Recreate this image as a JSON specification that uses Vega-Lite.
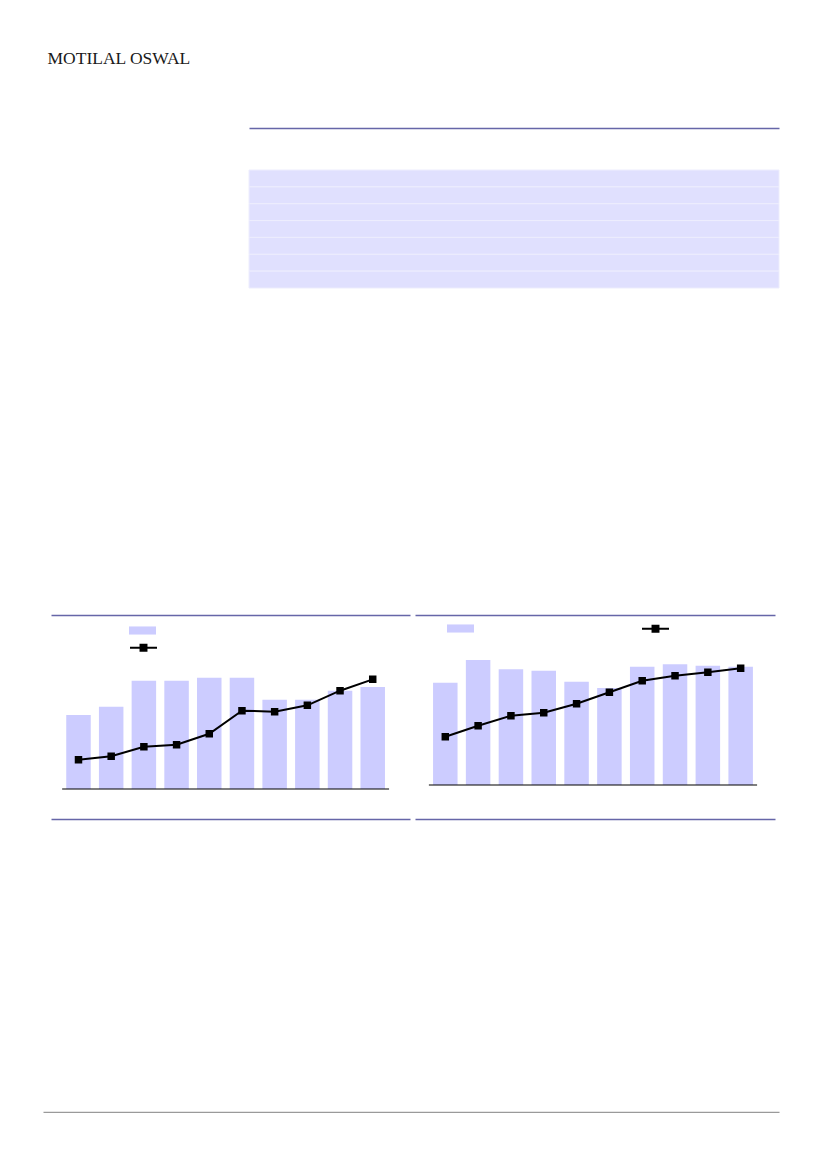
{
  "$schema": "https://vega.github.io/schema/vega-lite/v6.json",
  "padding": {"top": 49, "left": 42, "right": 0, "bottom": 0},
  "background": "white",
  "title": {"text": "MOTILAL OSWAL", "anchor": "start", "frame": "bounds", "font": "Liberation Serif", "fontSize": 17.5, "fontWeight": "normal", "color": "#1a1a1a", "dx": 5, "offset": 47, "baseline": "alphabetic"},
  "datasets": {
    "table": [{"row": 1, "w": 1}, {"row": 2, "w": 1}, {"row": 3, "w": 1}, {"row": 4, "w": 1}, {"row": 5, "w": 1}, {"row": 6, "w": 1}, {"row": 7, "w": 1}],
    "left": [
      {"idx": 1, "bar": 680, "line": 5.05},
      {"idx": 2, "bar": 757, "line": 5.64},
      {"idx": 3, "bar": 996, "line": 7.29},
      {"idx": 4, "bar": 996, "line": 7.64},
      {"idx": 5, "bar": 1023, "line": 9.53},
      {"idx": 6, "bar": 1023, "line": 13.5},
      {"idx": 7, "bar": 821, "line": 13.33},
      {"idx": 8, "bar": 821, "line": 14.43},
      {"idx": 9, "bar": 904, "line": 16.95},
      {"idx": 10, "bar": 938, "line": 18.91}
    ],
    "right": [
      {"idx": 1, "bar": 1023, "line": 9.66},
      {"idx": 2, "bar": 1250, "line": 11.86},
      {"idx": 3, "bar": 1157, "line": 13.86},
      {"idx": 4, "bar": 1143, "line": 14.46},
      {"idx": 5, "bar": 1033, "line": 16.26},
      {"idx": 6, "bar": 970, "line": 18.54},
      {"idx": 7, "bar": 1183, "line": 20.86},
      {"idx": 8, "bar": 1207, "line": 21.86},
      {"idx": 9, "bar": 1193, "line": 22.54},
      {"idx": 10, "bar": 1183, "line": 23.34}
    ],
    "footer": [{"p": 0}, {"p": 1}],
    "blank": [{}]
  },
  "config": {"view": {"stroke": null}, "axis": {"grid": false, "labels": false, "ticks": false}},
  "columns": 1,
  "spacing": 293,
  "align": "none",
  "resolve": {"scale": {"fill": "independent", "stroke": "independent"}, "legend": {"fill": "independent", "stroke": "independent"}},
  "concat": [
    {
      "columns": 1,
      "spacing": 325,
      "align": "none",
      "resolve": {"scale": {"fill": "independent", "stroke": "independent"}, "legend": {"fill": "independent", "stroke": "independent"}},
      "concat": [
        {
          "spacing": 5,
          "hconcat": [
            {
              "width": 200,
              "height": 1,
              "data": {"name": "blank"},
              "mark": {"type": "point", "opacity": 0, "size": 0}
            },
            {
              "width": 530,
              "height": 118,
              "data": {"name": "table"},
              "mark": {"type": "bar", "fill": "#e0e0fe", "stroke": "#ededfd", "strokeWidth": 1},
              "encoding": {
                "y": {"field": "row", "type": "ordinal", "scale": {"paddingInner": 0, "paddingOuter": 0}, "axis": null},
                "x": {"field": "w", "type": "quantitative", "scale": {"domain": [0, 1]}, "axis": {"orient": "top", "offset": 42, "domainColor": "#6666a8", "domainWidth": 1.5, "labels": false, "ticks": false, "grid": false, "title": null}}
              }
            }
          ]
        },
        {
          "spacing": 5,
          "resolve": {"scale": {"fill": "independent", "stroke": "independent"}, "legend": {"fill": "independent", "stroke": "independent"}},
          "hconcat": [
            {
              "width": 3,
              "height": 1,
              "data": {"name": "blank"},
              "mark": {"type": "point", "opacity": 0, "size": 0}
            },
            {
              "width": 359,
              "height": 174,
              "resolve": {"scale": {"y": "independent"}},
              "layer": [
                {
                  "data": {"name": "left"},
                  "mark": {"type": "bar", "size": 24.5},
                  "encoding": {
                    "x": {"field": "idx", "type": "quantitative", "scale": {"domain": [0.159, 11.14], "nice": false, "zero": false, "padding": 0}, "axis": {"orient": "top", "domainColor": "#6666a8", "domainWidth": 1.5, "labels": false, "ticks": false, "grid": false, "title": null}},
                    "y": {"field": "bar", "type": "quantitative", "scale": {"domain": [0, 1600]}, "axis": null},
                    "fill": {"datum": "Bars", "scale": {"range": ["#ccccff"]}, "legend": {"orient": "none", "legendX": 78, "legendY": 2, "padding": 0, "title": null, "symbolType": "M-1,-0.3H1V0.3H-1Z", "symbolSize": 729, "symbolStrokeWidth": 0, "labelOpacity": 0}}
                  }
                },
                {
                  "data": {"name": "left"},
                  "mark": {"type": "line", "strokeWidth": 2, "point": {"shape": "square", "filled": true, "size": 30, "fill": "black"}},
                  "encoding": {
                    "x": {"field": "idx", "type": "quantitative", "scale": {"domain": [0.159, 11.14], "nice": false, "zero": false, "padding": 0}, "axis": null},
                    "y": {"field": "line", "type": "quantitative", "scale": {"domain": [0, 30]}, "axis": null},
                    "stroke": {"datum": "Line", "scale": {"range": ["black"]}, "legend": {"orient": "none", "legendX": 78, "legendY": 18.2, "padding": 0, "title": null, "symbolType": "M-1,0H1M-0.22,-0.22H0.22V0.22H-0.22Z", "symbolSize": 729, "symbolStrokeWidth": 2, "symbolFillColor": "black", "labelOpacity": 0}}
                  }
                },
                {
                  "data": {"name": "blank"},
                  "mark": {"type": "rule", "color": "black", "strokeWidth": 1.2},
                  "encoding": {
                    "x": {"datum": 0.5, "type": "quantitative", "scale": {"domain": [0.159, 11.14], "nice": false, "zero": false, "padding": 0}, "axis": {"orient": "bottom", "offset": 30, "domainColor": "#6666a8", "domainWidth": 1.5, "labels": false, "ticks": false, "grid": false, "title": null}},
                    "x2": {"datum": 10.5},
                    "y": {"datum": 0, "type": "quantitative", "scale": {"domain": [0, 1]}, "axis": null}
                  }
                }
              ]
            },
            {
              "width": 360,
              "height": 170,
              "resolve": {"scale": {"y": "independent"}},
              "layer": [
                {
                  "data": {"name": "right"},
                  "mark": {"type": "bar", "size": 24.5},
                  "encoding": {
                    "x": {"field": "idx", "type": "quantitative", "scale": {"domain": [0.077, 11.046], "nice": false, "zero": false, "padding": 0}, "axis": {"orient": "top", "domainColor": "#6666a8", "domainWidth": 1.5, "labels": false, "ticks": false, "grid": false, "title": null}},
                    "y": {"field": "bar", "type": "quantitative", "scale": {"domain": [0, 1700]}, "axis": null},
                    "fill": {"datum": "Bars", "scale": {"range": ["#ccccff"]}, "legend": {"orient": "none", "legendX": 32, "legendY": 0, "padding": 0, "title": null, "symbolType": "M-1,-0.3H1V0.3H-1Z", "symbolSize": 729, "symbolStrokeWidth": 0, "labelOpacity": 0}}
                  }
                },
                {
                  "data": {"name": "right"},
                  "mark": {"type": "line", "strokeWidth": 2, "point": {"shape": "square", "filled": true, "size": 30, "fill": "black"}},
                  "encoding": {
                    "x": {"field": "idx", "type": "quantitative", "scale": {"domain": [0.077, 11.046], "nice": false, "zero": false, "padding": 0}, "axis": null},
                    "y": {"field": "line", "type": "quantitative", "scale": {"domain": [0, 34]}, "axis": null},
                    "stroke": {"datum": "Line", "scale": {"range": ["black"]}, "legend": {"orient": "none", "legendX": 226, "legendY": -0.8, "padding": 0, "title": null, "symbolType": "M-1,0H1M-0.22,-0.22H0.22V0.22H-0.22Z", "symbolSize": 729, "symbolStrokeWidth": 2, "symbolFillColor": "black", "labelOpacity": 0}}
                  }
                },
                {
                  "data": {"name": "blank"},
                  "mark": {"type": "rule", "color": "black", "strokeWidth": 1.2},
                  "encoding": {
                    "x": {"datum": 0.5, "type": "quantitative", "scale": {"domain": [0.077, 11.046], "nice": false, "zero": false, "padding": 0}, "axis": {"orient": "bottom", "offset": 34, "domainColor": "#6666a8", "domainWidth": 1.5, "labels": false, "ticks": false, "grid": false, "title": null}},
                    "x2": {"datum": 10.5},
                    "y": {"datum": 0, "type": "quantitative", "scale": {"domain": [0, 1]}, "axis": null}
                  }
                }
              ]
            }
          ]
        }
      ]
    },
    {
      "width": 736,
      "height": 1,
      "data": {"name": "footer"},
      "mark": {"type": "point", "opacity": 0, "size": 1},
      "encoding": {
        "x": {"field": "p", "type": "quantitative", "scale": {"domain": [0, 1]}, "axis": {"orient": "top", "domainColor": "#9a9a9a", "domainWidth": 1.5, "labels": false, "ticks": false, "grid": false, "title": null}}
      }
    }
  ]
}
